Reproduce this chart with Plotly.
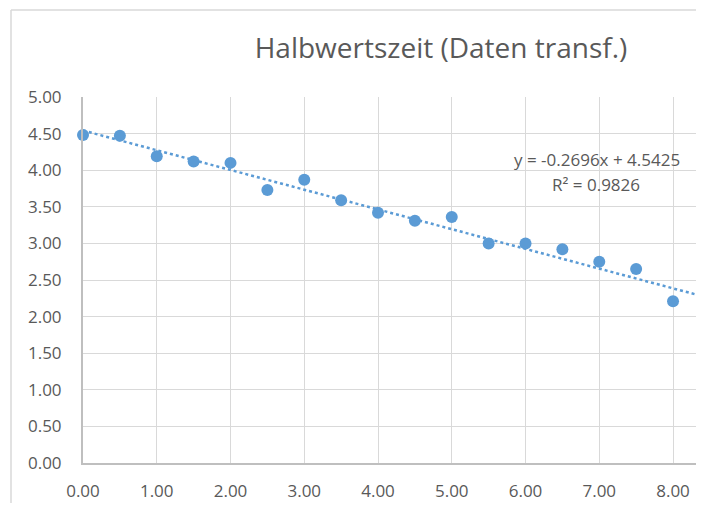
import plotly.graph_objects as go

# ---- data ----
x_vals = [0.0, 0.5, 1.0, 1.5, 2.0, 2.5, 3.0, 3.5, 4.0, 4.5, 5.0, 5.5, 6.0, 6.5, 7.0, 7.5, 8.0, 8.5]
y_vals = [4.48, 4.47, 4.19, 4.12, 4.10, 3.73, 3.87, 3.59, 3.42, 3.31, 3.36, 3.00, 3.00, 2.92, 2.75, 2.65, 2.21, 2.21]

trend_slope = -0.2696
trend_intercept = 4.5425
trend_r2 = 0.9826

title_text = "Halbwertszeit (Daten transf.)"
x_tick_vals = [0, 1, 2, 3, 4, 5, 6, 7, 8]
y_tick_vals = [0, 0.5, 1, 1.5, 2, 2.5, 3, 3.5, 4, 4.5, 5]

BLUE = "#5b9bd5"
TXT = "#595959"
GRID = "#d9d9d9"
AXIS = "#bfbfbf"
FONT = "Open Sans"

# trendline endpoints from the regression constants
tx = [min(x_vals), max(x_vals)]
ty = [trend_slope * v + trend_intercept for v in tx]

fig = go.Figure()
fig.add_trace(go.Scatter(
    x=tx, y=ty, mode="lines",
    line=dict(color=BLUE, width=2.5, dash="3px,3px"),
    hoverinfo="skip", cliponaxis=True, showlegend=False,
))
fig.add_trace(go.Scatter(
    x=x_vals, y=y_vals, mode="markers",
    marker=dict(color=BLUE, size=12, line=dict(width=0)),
    cliponaxis=False, showlegend=False,
))

eq_line1 = f"y = {trend_slope:.4f}x + {trend_intercept:.4f}"
eq_line2 = f"R² = {trend_r2:.4f}"
fig.add_annotation(
    x=6.97, y=4.14, xref="x", yref="y", text=eq_line1, showarrow=False,
    font=dict(family=FONT, size=17, color=TXT), xanchor="center", yanchor="middle",
)
fig.add_annotation(
    x=6.95, y=3.81, xref="x", yref="y", text=eq_line2, showarrow=False,
    font=dict(family=FONT, size=17, color=TXT), xanchor="center", yanchor="middle",
)

# page has an 8px body offset; figure sized so the page does not overflow
OFF = 8
FW, FH = 704 - OFF, 511 - 2 * OFF
# plot area in page pixels
PL, PR, PT, PB = 83, 704, 97, 463
pw, ph = PR - PL, PB - PT

# chart-area frame (partially visible, as in the cropped reference)
fx = (11 - PL) / pw
fy = (PB - 10) / ph
fig.add_shape(type="line", xref="paper", yref="paper", x0=fx, x1=fx, y0=-0.3, y1=fy,
              line=dict(color=GRID, width=1.5), layer="below")
fig.add_shape(type="line", xref="paper", yref="paper", x0=fx, x1=1.2, y0=fy, y1=fy,
              line=dict(color=GRID, width=1.5), layer="below")

fig.update_layout(
    width=FW, height=FH,
    margin=dict(l=PL - OFF, r=FW - (PR - OFF), t=PT - OFF, b=FH - (PB - OFF)),
    paper_bgcolor="white", plot_bgcolor="white",
    title=dict(text=title_text, x=(441 - PL) / pw, xref="paper", xanchor="center",
               y=1 - (48 - OFF) / FH, yref="container", yanchor="middle",
               font=dict(family=FONT, size=28, color=TXT)),
    font=dict(family=FONT, color=TXT),
    xaxis=dict(range=[0, 8.42], tickvals=x_tick_vals, tickformat=".2f",
               showgrid=True, gridcolor=GRID, gridwidth=1.3,
               showline=True, linecolor=AXIS, linewidth=2, zeroline=False,
               ticks="", ticklabelstandoff=12, automargin=False,
               tickfont=dict(family=FONT, size=17, color=TXT)),
    yaxis=dict(range=[0, 5], tickvals=y_tick_vals, tickformat=".2f",
               showgrid=True, gridcolor=GRID, gridwidth=1.3,
               showline=True, linecolor=AXIS, linewidth=2, zeroline=False,
               ticks="", ticklabelstandoff=16, automargin=False,
               tickfont=dict(family=FONT, size=17, color=TXT)),
)

fig.write_html("out.html")
